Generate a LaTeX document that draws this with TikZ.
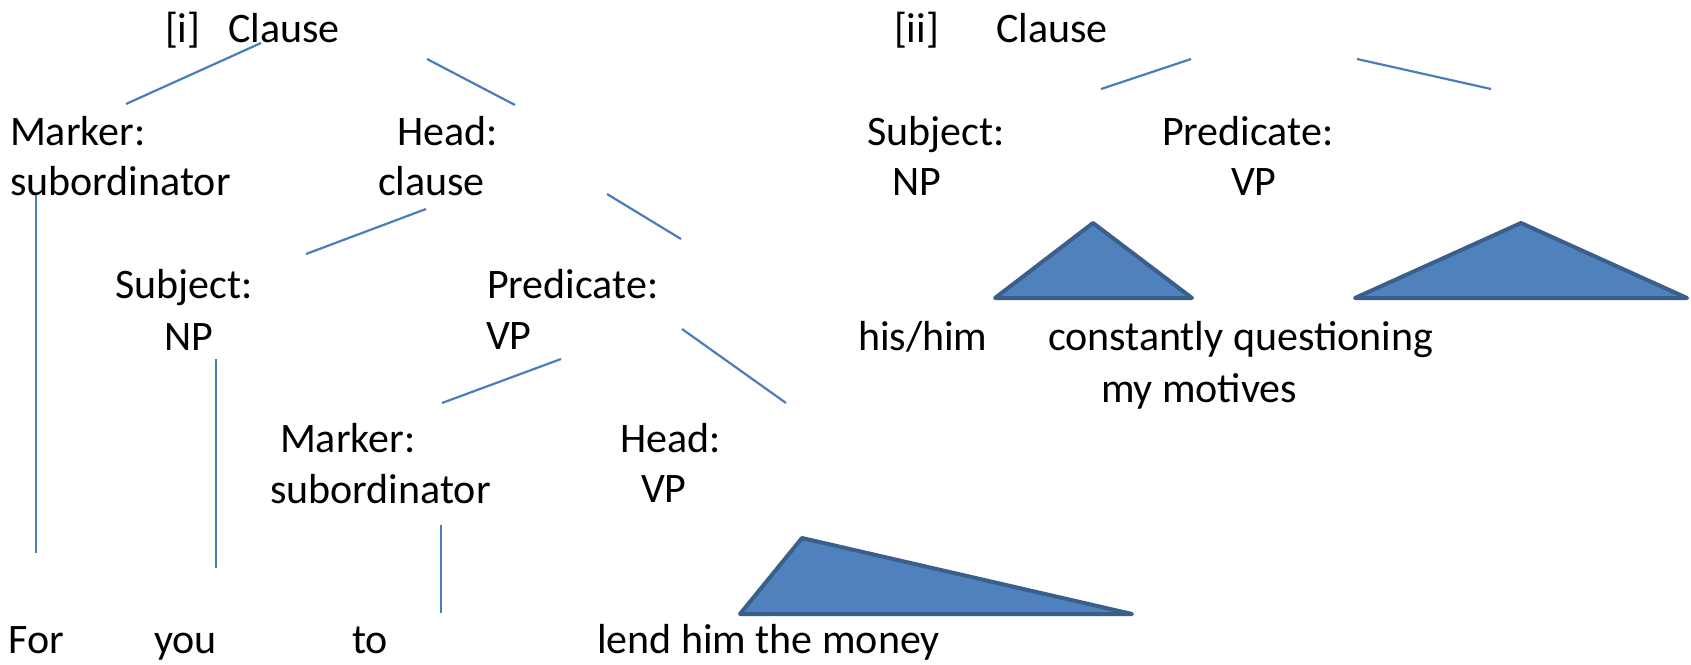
\documentclass[tikz,border=0pt]{standalone}
\usepackage{fontspec}
\setmainfont{Carlito}
\definecolor{linkblue}{HTML}{4A7EBB}
\definecolor{trifill}{HTML}{4F81BD}
\definecolor{tridraw}{HTML}{3A5F8B}
\tikzset{
  lbl/.style={anchor=base west, inner sep=0pt, outer sep=0pt, font=\fontsize{42}{50}\selectfont, text=black},
  branch/.style={draw=linkblue, line width=2.2pt},
  tri/.style={fill=trifill, draw=tridraw, line width=4pt, line join=round, line cap=round}
}
\begin{document}
\begin{tikzpicture}[x=1pt,y=-1pt]
\useasboundingbox[fill=white] (0,0) rectangle (1691,664);

% ---------- Tree [i] ----------
\node[lbl] (tagi)   at (165,42)  {[i]};
\node[lbl] (clA)    at (228,42)  {Clause};
\node[lbl] (mkA)    at (10,145)  {Marker:};
\node[lbl] (subA)   at (10,195)  {subordinator};
\node[lbl] (hdA)    at (397,145) {Head:};
\node[lbl] (clauseA) at (378,195) {clause};
\node[lbl] (sjA)    at (115,298) {Subject:};
\node[lbl] (npA)    at (164,350) {NP};
\node[lbl] (prA)    at (487,298) {Predicate:};
\node[lbl] (vpA)    at (486,349) {VP};
\node[lbl] (mkB)    at (280,452) {Marker:};
\node[lbl] (subB)   at (270,503) {subordinator};
\node[lbl] (hdB)    at (620,452) {Head:};
\node[lbl] (vpB)    at (641,502) {VP};
\node[lbl] (wFor)   at (9,653)   {For};
\node[lbl] (wYou)   at (154,653) {you};
\node[lbl] (wTo)    at (352,653) {to};
\node[lbl] (wLend)  at (597,653) {lend him the money};

% line end points
\coordinate (a1) at (261,43);  \coordinate (a2) at (126,104);
\coordinate (b1) at (427,59);  \coordinate (b2) at (515,105);
\coordinate (c1) at (36,195);  \coordinate (c2) at (36,553);
\coordinate (d1) at (426,209); \coordinate (d2) at (306,254);
\coordinate (e1) at (607,194); \coordinate (e2) at (681,239);
\coordinate (f1) at (216,359); \coordinate (f2) at (216,568);
\coordinate (g1) at (561,359); \coordinate (g2) at (442,403);
\coordinate (h1) at (682,329); \coordinate (h2) at (786,403);
\coordinate (k1) at (441,525); \coordinate (k2) at (441,613);

\draw[branch] (a1) -- (a2);
\draw[branch] (b1) -- (b2);
\draw[branch] (c1) -- (c2);
\draw[branch] (d1) -- (d2);
\draw[branch] (e1) -- (e2);
\draw[branch] (f1) -- (f2);
\draw[branch] (g1) -- (g2);
\draw[branch] (h1) -- (h2);
\draw[branch] (k1) -- (k2);

\coordinate (t1l) at (740,614); \coordinate (t1t) at (802,538); \coordinate (t1r) at (1132,614);
\draw[tri] (t1l) -- (t1t) -- (t1r) -- cycle;

% ---------- Tree [ii] ----------
\node[lbl] (tagii)  at (894,42)   {[ii]};
\node[lbl] (clC)    at (996,42)   {Clause};
\node[lbl] (sjC)    at (867,145)  {Subject:};
\node[lbl] (npC)    at (892,195)  {NP};
\node[lbl] (prC)    at (1162,145) {Predicate:};
\node[lbl] (vpC)    at (1231,195) {VP};
\node[lbl] (wHis)   at (858,350)  {his/him};
\node[lbl] (wConst) at (1048,350) {constantly questioning};
\node[lbl] (wMot)   at (1101,402) {my motives};

\coordinate (m1) at (1191,59); \coordinate (m2) at (1101,89);
\coordinate (n1) at (1357,59); \coordinate (n2) at (1491,89);
\draw[branch] (m1) -- (m2);
\draw[branch] (n1) -- (n2);

\coordinate (t2l) at (995,298);  \coordinate (t2t) at (1093,223); \coordinate (t2r) at (1192,298);
\coordinate (t3l) at (1355,298); \coordinate (t3t) at (1521,223); \coordinate (t3r) at (1687,298);
\draw[tri] (t2l) -- (t2t) -- (t2r) -- cycle;
\draw[tri] (t3l) -- (t3t) -- (t3r) -- cycle;
\end{tikzpicture}
\end{document}
